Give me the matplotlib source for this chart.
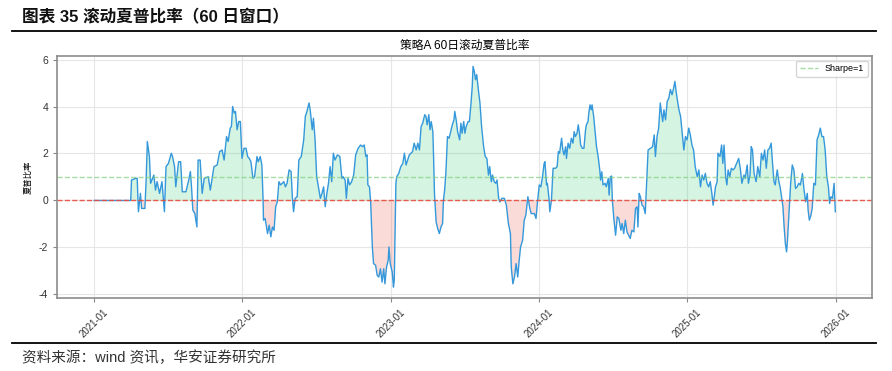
import matplotlib.pyplot as plt
import numpy as np
import pandas as pd

plt.rcParams['font.family'] = ['Liberation Sans', 'Noto Sans CJK SC', 'DejaVu Sans']
plt.rcParams['axes.unicode_minus'] = False

start_date = "2021-01-01"
# 距起始日的天数，以及对应的60日滚动夏普比率
day_offsets = [
    0, 90, 92, 102, 106, 109, 114, 117, 125, 128, 131, 136, 139, 147, 151, 155, 161, 167, 173, 177,
    183, 190, 193, 198, 201, 208, 213, 217, 226, 232, 237, 240, 243, 248, 253, 256, 261, 266, 271, 281,
    286, 295, 303, 309, 315, 320, 326, 330, 335, 338, 341, 345, 348, 352, 356, 360, 364, 369, 374, 378,
    382, 386, 391, 395, 401, 404, 409, 413, 416, 417, 421, 427, 431, 435, 439, 443, 447, 451, 455, 459,
    463, 467, 471, 475, 480, 485, 488, 491, 495, 500, 504, 510, 516, 520, 524, 529, 532, 537, 540, 544,
    548, 553, 557, 561, 565, 569, 573, 577, 581, 585, 589, 593, 599, 605, 610, 613, 618, 621, 625, 629,
    634, 639, 644, 650, 656, 661, 665, 669, 672, 674, 678, 681, 685, 688, 693, 697, 701, 705, 709, 713,
    716, 720, 724, 726, 729, 734, 737, 739, 743, 745, 750, 755, 760, 764, 768, 772, 776, 784, 788, 793,
    797, 801, 805, 809, 814, 817, 820, 824, 827, 830, 834, 836, 838, 842, 846, 850, 854, 858, 860, 863,
    866, 870, 874, 878, 882, 886, 888, 892, 895, 900, 903, 906, 910, 913, 916, 921, 924, 928, 931, 933,
    936, 939, 942, 946, 950, 954, 959, 963, 967, 971, 974, 978, 981, 985, 989, 992, 996, 999, 1004, 1010,
    1015, 1020, 1025, 1027, 1031, 1035, 1039, 1043, 1047, 1050, 1055, 1059, 1063, 1068, 1072, 1076, 1080, 1084, 1088, 1092,
    1096, 1100, 1104, 1108, 1110, 1114, 1116, 1120, 1122, 1126, 1130, 1136, 1140, 1143, 1146, 1151, 1154, 1157, 1161, 1163,
    1167, 1171, 1175, 1179, 1182, 1185, 1189, 1192, 1195, 1198, 1202, 1206, 1210, 1212, 1216, 1218, 1221, 1224, 1226, 1230,
    1233, 1237, 1241, 1245, 1247, 1250, 1253, 1258, 1261, 1266, 1268, 1271, 1274, 1276, 1280, 1284, 1288, 1292, 1297, 1300,
    1304, 1308, 1312, 1316, 1320, 1324, 1329, 1333, 1337, 1339, 1342, 1345, 1349, 1353, 1357, 1360, 1364, 1370, 1375, 1379,
    1382, 1386, 1390, 1394, 1397, 1400, 1403, 1407, 1411, 1415, 1419, 1423, 1427, 1430, 1433, 1436, 1440, 1444, 1448, 1452,
    1456, 1460, 1464, 1468, 1472, 1476, 1480, 1485, 1489, 1493, 1497, 1501, 1505, 1509, 1513, 1517, 1521, 1524, 1527, 1530,
    1534, 1536, 1541, 1545, 1548, 1551, 1555, 1558, 1561, 1565, 1569, 1573, 1577, 1582, 1587, 1591, 1595, 1600, 1603, 1608,
    1611, 1615, 1618, 1621, 1625, 1630, 1634, 1639, 1643, 1647, 1651, 1655, 1659, 1663, 1667, 1671, 1674, 1677, 1682, 1686,
    1689, 1692, 1696, 1699, 1702, 1705, 1707, 1711, 1715, 1719, 1723, 1727, 1731, 1735, 1739, 1744, 1748, 1752, 1756, 1758,
    1761, 1765, 1768, 1772, 1776, 1780, 1784, 1788, 1792, 1796, 1800, 1804, 1808, 1811, 1814, 1818, 1822, 1825,
]
sharpe = [
    0.0, 0.0, 0.87, 0.94, 0.94, -0.48, 0.30, -0.34, -0.34, 0.87, 2.51, 1.87, 0.73, 1.08, 0.44, 0.80, 0.30, 0.80, -0.48, 1.44,
    1.58, 2.01, 1.87, 1.44, 0.58, 1.65, 1.65, 0.37, 0.37, 0.80, 1.23, 0.51, -0.41, -0.56, -1.13, 1.72, 1.72, 0.30, 0.94, 1.01,
    0.44, 1.44, 1.51, 2.08, 2.15, 1.72, 2.72, 2.51, 3.08, 3.15, 4.00, 3.72, 3.79, 3.01, 3.36, 3.36, 1.79, 2.22, 2.22, 1.87,
    1.79, 1.65, 0.94, 1.01, 1.87, 1.65, 1.87, 1.51, 0.0, -0.84, -0.77, -1.41, -1.05, -1.55, -1.13, -1.27, -0.27, -0.06, 0.80, 0.66,
    0.73, 0.80, 0.58, 0.73, 1.30, 1.23, 0.16, -0.48, 0.09, 0.16, 1.72, 1.87, 2.58, 3.58, 3.79, 4.15, 3.86, 3.01, 3.50, 2.58,
    1.01, 0.51, 0.09, 0.30, 0.58, -0.27, 0.30, 0.73, 1.44, 0.80, 2.01, 1.72, 1.94, 1.87, 0.94, 1.01, 0.87, 0.09, 0.94, 0.66,
    0.80, 1.08, 1.94, 2.22, 2.36, 2.29, 2.36, 1.87, 1.94, 0.66, 0.58, -0.13, -1.98, -2.69, -2.76, -3.19, -3.26, -2.91, -3.48, -2.91,
    -3.55, -2.83, -2.55, -1.98, -2.69, -3.05, -3.69, -3.40, 0.73, 1.01, 1.15, 1.44, 1.58, 2.01, 1.51, 1.72, 1.94, 2.08, 2.44, 2.15,
    2.44, 2.15, 3.15, 3.29, 3.65, 3.58, 3.22, 3.65, 3.01, 3.36, 2.93, 1.72, 0.30, -0.91, -1.20, -1.41, -1.13, -0.98, 0.0, 0.44,
    1.15, 2.72, 2.65, 2.93, 3.22, 3.44, 3.79, 3.36, 2.93, 2.58, 3.29, 2.86, 3.36, 2.86, 3.15, 3.36, 3.36, 4.15, 4.86, 5.71,
    5.50, 5.14, 5.36, 4.72, 4.15, 3.15, 2.29, 1.87, 1.79, 1.08, 1.44, 0.80, 1.08, 0.80, 0.73, 0.87, 0.09, -0.06, 0.09, 0.09,
    -0.20, -0.98, -1.41, -2.83, -3.55, -3.26, -2.69, -3.26, -2.48, -1.98, -1.70, -0.84, -0.63, 0.16, -0.27, -0.56, -0.56, -0.56, -0.77, 0.0,
    0.66, 0.58, 1.01, 1.58, 1.65, 0.66, 0.73, 0.09, -0.48, 0.0, 1.37, 1.37, 1.44, 2.08, 2.01, 2.65, 2.15, 1.94, 2.29, 1.79,
    2.44, 2.22, 2.65, 2.44, 2.93, 2.72, 2.86, 3.22, 2.86, 2.36, 2.22, 2.22, 3.01, 3.22, 3.36, 3.72, 4.07, 3.86, 4.07, 3.58,
    3.01, 2.29, 1.87, 1.30, 0.87, 1.22, 0.66, 0.73, 0.58, 0.94, 0.23, 1.01, 1.04, 0.0, -0.84, -1.48, -0.70, -0.77, -1.27, -0.98,
    -1.41, -0.84, -1.34, -1.48, -1.62, -1.27, -1.34, -0.34, -0.27, -1.13, 0.30, 0.16, -0.20, -0.27, -0.56, 0.58, 2.15, 2.22, 2.29, 2.79,
    1.87, 2.72, 3.08, 4.15, 3.72, 3.36, 3.86, 3.43, 4.22, 4.36, 4.72, 4.50, 4.79, 5.07, 4.64, 4.29, 3.86, 3.58, 2.86, 2.15,
    2.72, 2.58, 3.08, 2.79, 2.36, 2.15, 1.44, 1.01, 1.30, 0.58, 1.08, 0.87, 1.15, 0.73, 0.58, 0.80, 0.30, -0.20, 0.16, 0.58,
    0.80, 2.01, 1.87, 2.36, 1.58, 2.36, 1.01, 0.66, 1.30, 1.01, 1.37, 1.30, 1.37, 1.58, 1.79, 1.37, 0.73, 1.08, 0.94, 1.51,
    0.73, 1.08, 2.29, 2.15, 1.15, 0.80, 1.44, 1.01, 2.01, 1.72, 2.15, 1.37, 2.15, 2.22, 2.44, 1.44, 0.80, 0.66, 1.30, 0.80,
    0.58, 0.23, -0.27, -1.13, -1.84, -2.19, -1.77, -0.56, 0.73, 1.51, 1.30, 0.51, 0.58, 0.73, 0.66, 1.15, 0.44, -0.06, 0.30, -0.41,
    -0.84, -0.63, -0.34, 0.73, 0.66, 2.58, 2.79, 3.08, 2.72, 2.72, 2.15, 1.01, 0.58, -0.13, 0.16, 0.09, 0.73, -0.48,
]
tick_years = ["2021-01", "2022-01", "2023-01", "2024-01", "2025-01", "2026-01"]

dates = pd.Timestamp(start_date) + pd.to_timedelta(day_offsets, unit="D")
values = np.array(sharpe)

fig = plt.figure(figsize=(8.92, 3.71), dpi=100)

# 报告标题和分隔线
fig.text(0.025, 0.952, "图表 35 滚动夏普比率（60 日窗口）", fontsize=12, fontweight="bold",
         ha="left", va="center", color="#111111")
fig.add_artist(plt.Line2D([0.013, 0.982], [0.917, 0.917], color="black", lw=1.3))
fig.add_artist(plt.Line2D([0.013, 0.982], [0.075, 0.075], color="black", lw=1.3))
fig.text(0.025, 0.035, "资料来源：wind 资讯，华安证券研究所", fontsize=10.5,
         ha="left", va="center", color="#333333")

ax = fig.add_axes([0.064, 0.197, 0.914, 0.652])
ax.plot(dates, values, color="#3498db", lw=1.0)
ax.fill_between(dates, values, 0, where=values >= 0, interpolate=True, color="#2ecc71", alpha=0.2, lw=0)
ax.fill_between(dates, values, 0, where=values < 0, interpolate=True, color="#e74c3c", alpha=0.2, lw=0)
ax.axhline(1, color="#7fcf7f", ls="--", lw=1.0, alpha=0.7, label="Sharpe=1")
ax.axhline(0, color="#e74c3c", ls="--", lw=1.0, alpha=0.9)

ax.set_xticks(pd.to_datetime(tick_years))
ax.set_xticklabels(tick_years, rotation=45, fontsize=7, color="#333333")
ax.set_yticks([-4, -2, 0, 2, 4, 6])
ax.tick_params(axis="y", labelsize=7.5, colors="#333333")
ax.tick_params(axis="both", length=3, color="#888888")
ax.set_ylim(-4.15, 6.15)
ax.set_title("策略A 60日滚动夏普比率", fontsize=8.5, pad=5)
ax.set_ylabel("夏普比率", fontsize=6)
ax.grid(True, color="#e6e6e6", lw=0.8)
ax.set_axisbelow(True)
for s in ax.spines.values():
    s.set_color("#8c8c8c")
    s.set_linewidth(1.2)
ax.legend(loc="upper right", fontsize=6.5, frameon=True, edgecolor="#cccccc", fancybox=True)

fig.savefig("out.png", dpi=100)
